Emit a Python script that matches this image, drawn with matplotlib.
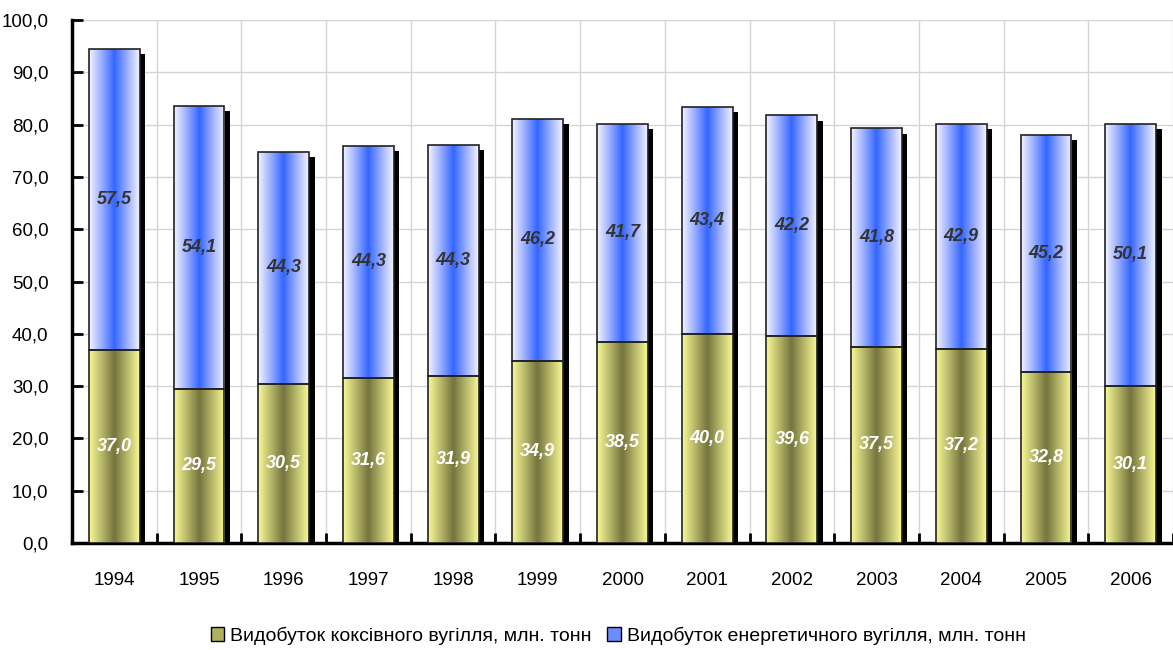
import numpy as np
import matplotlib
matplotlib.use("Agg")
import matplotlib.pyplot as plt
from matplotlib.colors import LinearSegmentedColormap
from matplotlib.patches import Patch, Rectangle

plt.rcParams['font.family'] = ['Liberation Sans', 'DejaVu Sans']

years = ['1994', '1995', '1996', '1997', '1998', '1999', '2000',
         '2001', '2002', '2003', '2004', '2005', '2006']
coke = [37.0, 29.5, 30.5, 31.6, 31.9, 34.9, 38.5, 40.0, 39.6, 37.5, 37.2, 32.8, 30.1]
energy = [57.5, 54.1, 44.3, 44.3, 44.3, 46.2, 41.7, 43.4, 42.2, 41.8, 42.9, 45.2, 50.1]
yticks = np.arange(0, 101, 10)
legend_labels = ['Видобуток коксівного вугілля, млн. тонн',
                 'Видобуток енергетичного вугілля, млн. тонн']

# edge -> centre -> edge gradients
cmap_coke = LinearSegmentedColormap.from_list(
    'coke', ['#fafa98', '#b8b86a', '#74743e', '#b8b86a', '#fafa98'])
cmap_energy = LinearSegmentedColormap.from_list(
    'energy', ['#f4f4ff', '#9aaeff', '#3366ff', '#9aaeff', '#f4f4ff'])

fig = plt.figure(figsize=(11.73, 6.5), dpi=100)
ax = fig.add_axes([0.0614, 0.1646, 0.9386, 0.8044])

x = np.arange(len(years))
width = 0.6
totals = np.array(coke) + np.array(energy)

# shadows
for xi, t in zip(x, totals):
    ax.add_patch(Rectangle((xi - width / 2 + 0.065, 0), width, t - 1.0,
                           facecolor='black', edgecolor='none', zorder=2))

b1 = ax.bar(x, coke, width, facecolor='none', edgecolor='#222222', lw=1.2, zorder=4)
b2 = ax.bar(x, energy, width, bottom=coke, facecolor='none', edgecolor='#222222',
            lw=1.2, zorder=4)

grad = np.linspace(0, 1, 256).reshape(1, -1)
for bars, cm in ((b1, cmap_coke), (b2, cmap_energy)):
    for p in bars:
        x0, y0 = p.get_x(), p.get_y()
        im = ax.imshow(grad, cmap=cm, aspect='auto', interpolation='bicubic',
                       extent=(x0, x0 + p.get_width(), y0, y0 + p.get_height()),
                       zorder=3)
        im.set_clip_path(p)

for xi, c, e in zip(x, coke, energy):
    ax.text(xi, c / 2, f'{c:.1f}'.replace('.', ','), ha='center', va='center',
            color='white', fontsize=13, fontstyle='italic', fontweight='bold', zorder=5)
    ax.text(xi, c + e / 2, f'{e:.1f}'.replace('.', ','), ha='center', va='center',
            color='#333333', fontsize=13, fontstyle='italic', fontweight='bold', zorder=5)

ax.set_xlim(-0.5, len(years) - 0.5)
ax.set_ylim(0, 100)
ax.set_yticks(yticks)
ax.set_yticklabels([f'{v:.1f}'.replace('.', ',') for v in yticks], fontsize=13.5)
ax.set_xticks(x)
ax.set_xticklabels(years, fontsize=13.5)
ax.tick_params(axis='x', length=0, pad=21)
ax.tick_params(axis='y', length=8, width=2, direction='in', pad=17)

# vertical grid at category boundaries
ax.set_xticks(np.arange(-0.5, len(years)), minor=True)
ax.tick_params(axis='x', which='minor', length=7, width=2, direction='in')
ax.grid(axis='y', color='#d4d4d4', lw=1, zorder=0)
ax.grid(axis='x', which='minor', color='#d4d4d4', lw=1, zorder=0)
ax.set_axisbelow(True)

for s in ['top', 'right']:
    ax.spines[s].set_visible(False)
ax.spines['left'].set_linewidth(2.5)
ax.spines['bottom'].set_linewidth(2.5)

handles = [Patch(facecolor='#b0b060', edgecolor='black', lw=1),
           Patch(facecolor='#6f8cff', edgecolor='black', lw=1)]
fig.legend(handles, legend_labels, loc='center', bbox_to_anchor=(0.527, 0.022),
           ncol=2, frameon=False, fontsize=14, handlelength=0.7, handleheight=0.7,
           handletextpad=0.3, columnspacing=0.8)

fig.savefig('out.png', dpi=100)
